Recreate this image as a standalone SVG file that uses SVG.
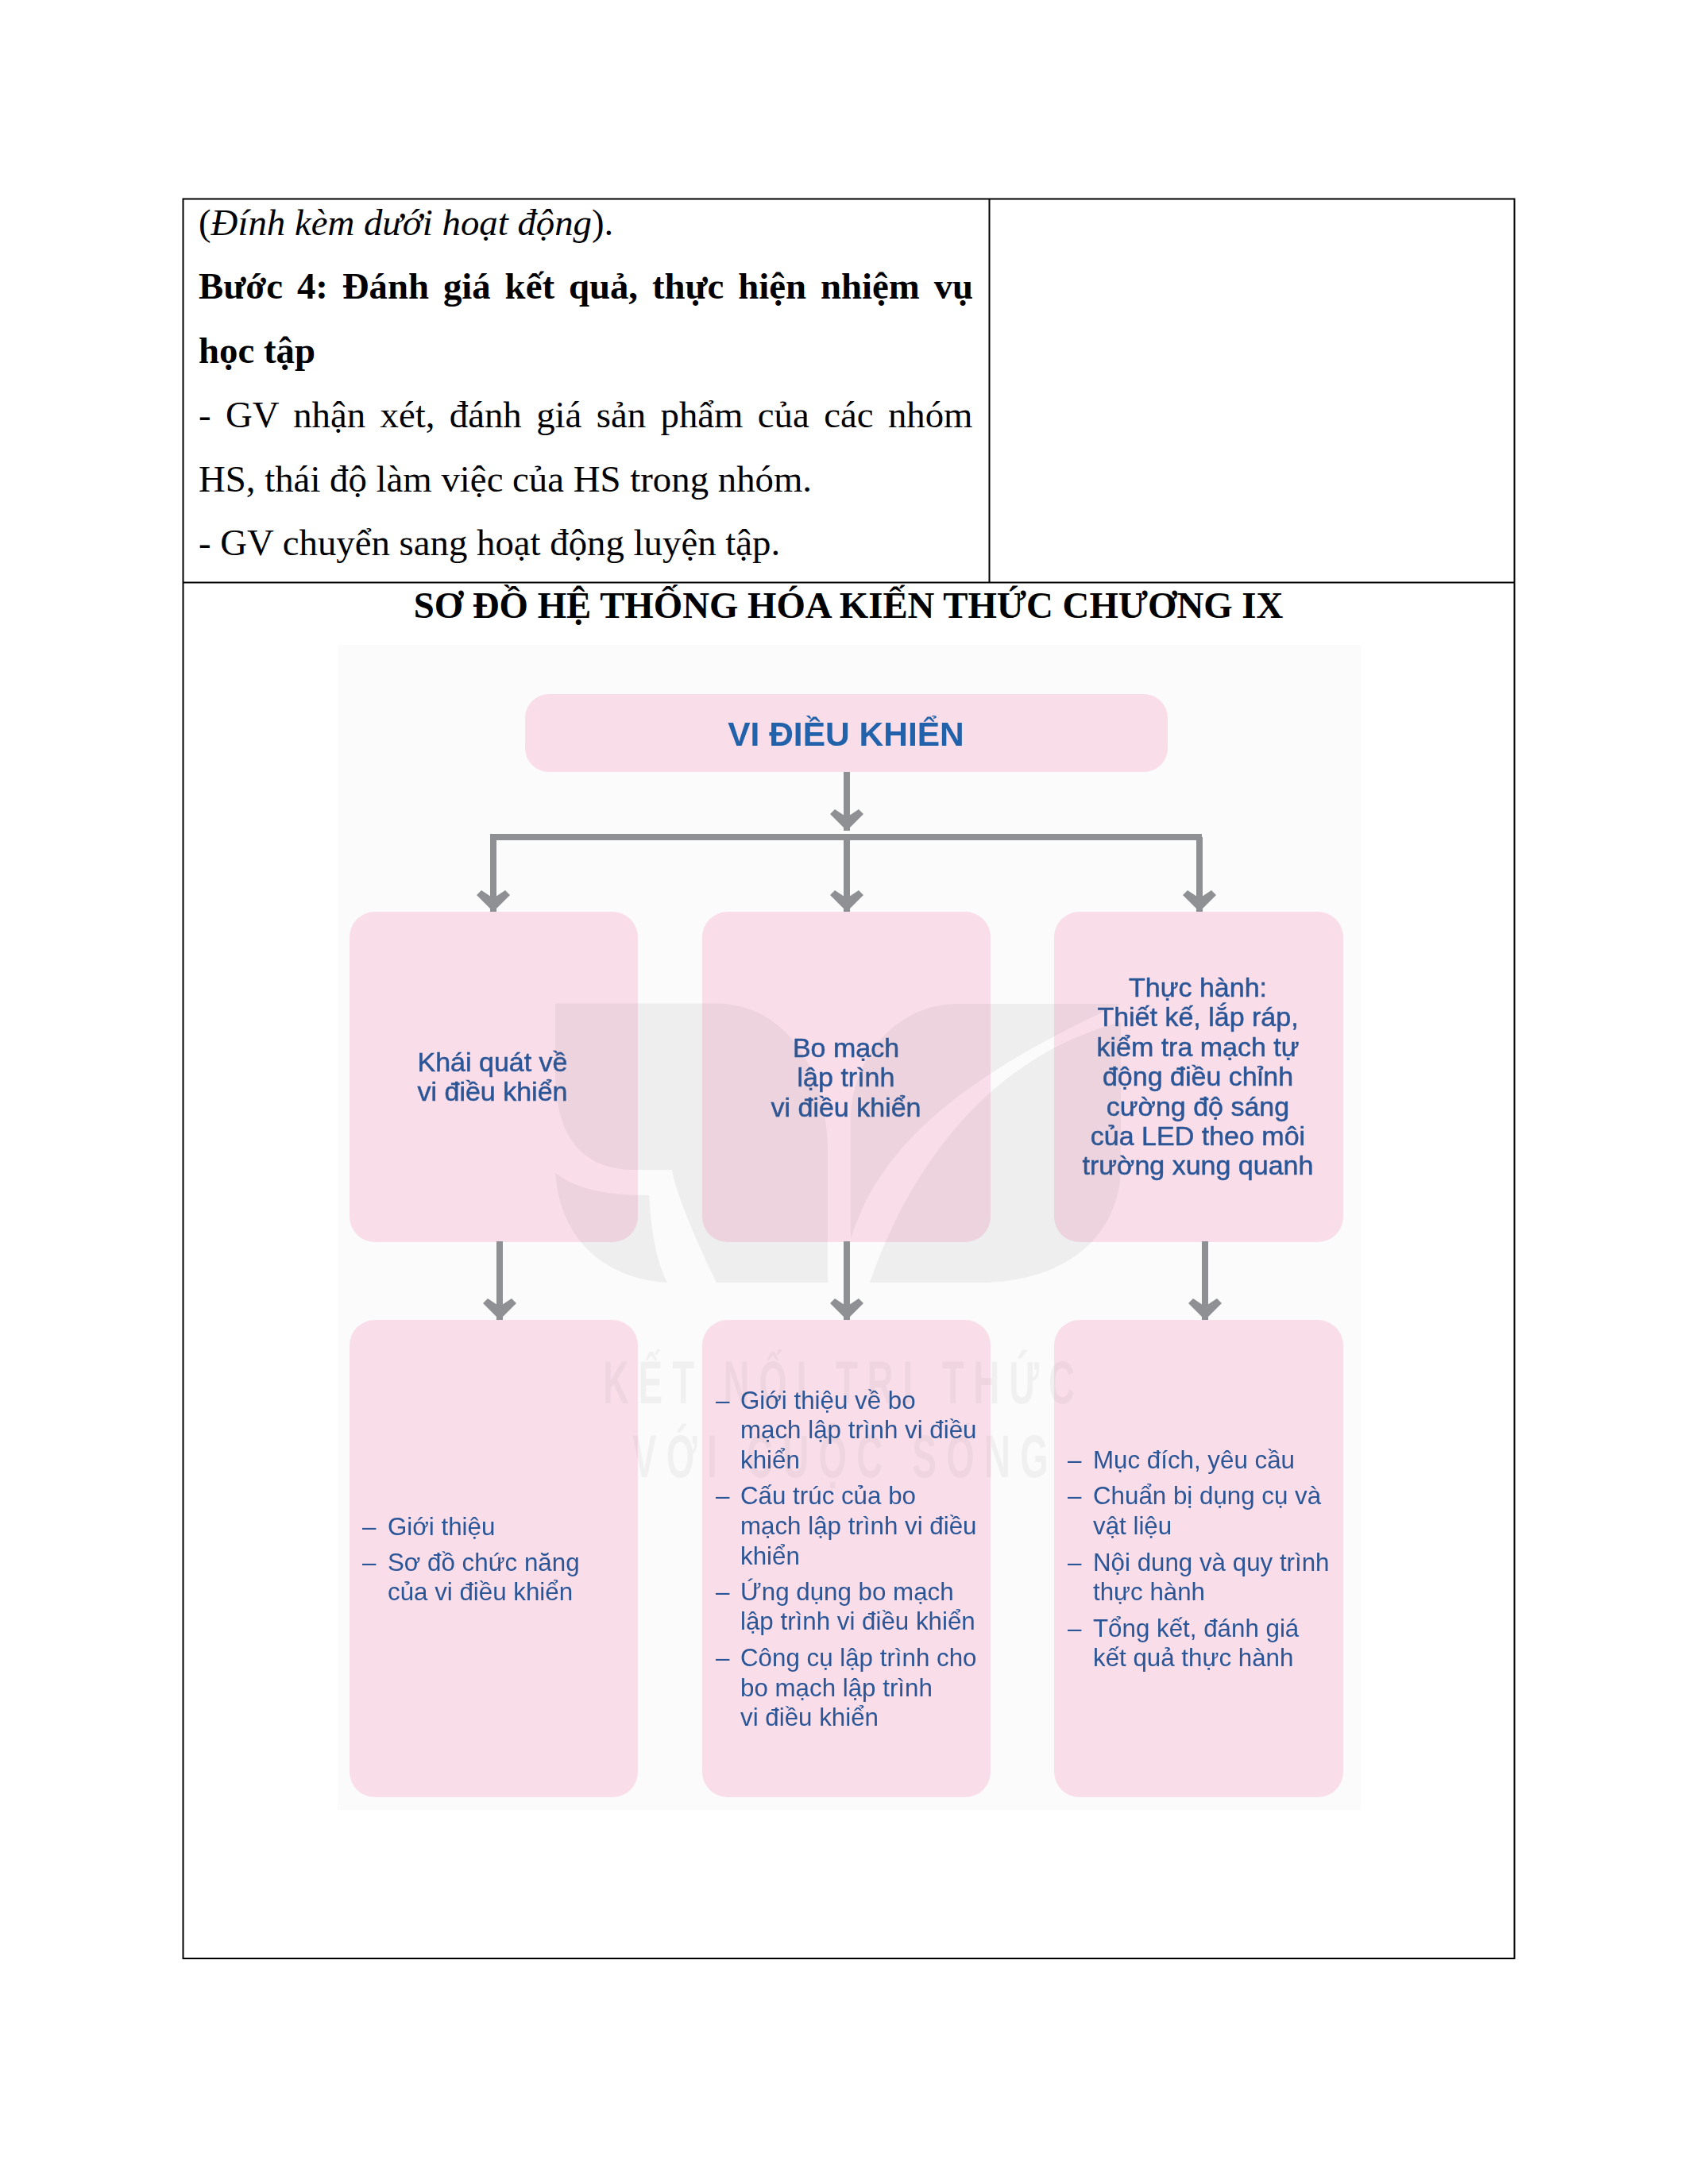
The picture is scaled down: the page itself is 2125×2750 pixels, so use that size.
<svg xmlns="http://www.w3.org/2000/svg" width="2125" height="2750" viewBox="0 0 2125 2750">
<style>
.doc{font-family:"Liberation Serif","Times New Roman",serif;font-size:46.8px;fill:#000}
.b{font-weight:bold}
.box{fill:#f9deea}
.t{font-family:"Liberation Sans",Arial,sans-serif;font-size:31.3px;fill:#2a5596}
.h{font-size:34px;stroke:#2a5596;stroke-width:.5}
.c{text-anchor:middle}
.rule{stroke:#000;stroke-width:2;fill:none}
.conn{stroke:#8f9093;stroke-width:8;fill:none}
.wm{fill:#6e6e6e;opacity:.085}
.wmt{font-family:"Liberation Sans",Arial,sans-serif;font-weight:bold;font-size:76px;fill:#6e6e6e;opacity:.07}
</style>
<defs>
<filter id="soft" x="-2%" y="-2%" width="104%" height="104%"><feGaussianBlur stdDeviation="0.7"/></filter>
<marker id="chev" markerUnits="userSpaceOnUse" markerWidth="44" markerHeight="34" refX="22" refY="30" viewBox="0 0 44 34"><path d="M22 30 L1 9 L7 3 L22 13 L37 3 L43 9 Z" fill="#8f9093"/></marker>
</defs>
<rect width="2125" height="2750" fill="#fff"/>
<g id="table">
<rect class="rule" x="230.500" y="250.500" width="1676" height="2215.500"/>
<path class="rule" d="M230 733.500H1906M1245.500 250V733"/>
<text class="doc" x="250" y="296">(<tspan font-style="italic">Đính kèm dưới hoạt động</tspan>).</text>
<text class="doc b" x="250" y="376" word-spacing="6.200">Bước 4: Đánh giá kết quả, thực hiện nhiệm vụ</text>
<text class="doc b" x="250" y="457">học tập</text>
<text class="doc" x="250" y="538" word-spacing="6.700">- GV nhận xét, đánh giá sản phẩm của các nhóm</text>
<text class="doc" x="250" y="619">HS, thái độ làm việc của HS trong nhóm.</text>
<text class="doc" x="250" y="699">- GV chuyển sang hoạt động luyện tập.</text>
<text class="doc b c" x="1068" y="778">SƠ ĐỒ HỆ THỐNG HÓA KIẾN THỨC CHƯƠNG IX</text>
</g>
<g id="figure" filter="url(#soft)">
<rect id="figure-bg" x="425" y="812" width="1288" height="1467" fill="#fbfbfb"/>
<g id="n-root"><rect class="box" x="661" y="874" width="809" height="98" rx="30"/><text class="t c b" x="1065" y="939" style="font-size:42.500px;fill:#2362ab">VI ĐIỀU KHIỂN</text></g>
<g id="n-a1"><rect class="box" x="440" y="1148" width="363" height="416" rx="32"/><text class="t c h" x="620" y="1349">Khái quát về<tspan x="620" dy="37.4">vi điều khiển</tspan></text></g>
<g id="n-b1"><rect class="box" x="884" y="1148" width="363" height="416" rx="32"/><text class="t c h" x="1065" y="1331">Bo mạch<tspan x="1065" dy="37.4">lập trình</tspan><tspan x="1065" dy="37.4">vi điều khiển</tspan></text></g>
<g id="n-c1"><rect class="box" x="1327" y="1148" width="364" height="416" rx="32"/><text class="t c h" x="1508" y="1255">Thực hành:<tspan x="1508" dy="37.4">Thiết kế, lắp ráp,</tspan><tspan x="1508" dy="37.4">kiểm tra mạch tự</tspan><tspan x="1508" dy="37.4">động điều chỉnh</tspan><tspan x="1508" dy="37.4">cường độ sáng</tspan><tspan x="1508" dy="37.4">của LED theo môi</tspan><tspan x="1508" dy="37.4">trường xung quanh</tspan></text></g>
<g id="n-a2"><rect class="box" x="440" y="1662" width="363" height="601" rx="32"/><text class="t"><tspan x="456" y="1933">–</tspan><tspan x="488" y="1933">Giới thiệu</tspan><tspan x="456" y="1978">–</tspan><tspan x="488" y="1978">Sơ đồ chức năng</tspan><tspan x="488" y="2015">của vi điều khiển</tspan></text></g>
<g id="n-b2"><rect class="box" x="884" y="1662" width="363" height="601" rx="32"/><text class="t"><tspan x="901" y="1774">–</tspan><tspan x="932" y="1774">Giới thiệu về bo</tspan><tspan x="932" y="1811">mạch lập trình vi điều</tspan><tspan x="932" y="1849">khiển</tspan><tspan x="901" y="1894">–</tspan><tspan x="932" y="1894">Cấu trúc của bo</tspan><tspan x="932" y="1932">mạch lập trình vi điều</tspan><tspan x="932" y="1970">khiển</tspan><tspan x="901" y="2015">–</tspan><tspan x="932" y="2015">Ứng dụng bo mạch</tspan><tspan x="932" y="2052">lập trình vi điều khiển</tspan><tspan x="901" y="2098">–</tspan><tspan x="932" y="2098">Công cụ lập trình cho</tspan><tspan x="932" y="2136">bo mạch lập trình</tspan><tspan x="932" y="2173">vi điều khiển</tspan></text></g>
<g id="n-c2"><rect class="box" x="1327" y="1662" width="364" height="601" rx="32"/><text class="t"><tspan x="1344" y="1849">–</tspan><tspan x="1376" y="1849">Mục đích, yêu cầu</tspan><tspan x="1344" y="1894">–</tspan><tspan x="1376" y="1894">Chuẩn bị dụng cụ và</tspan><tspan x="1376" y="1932">vật liệu</tspan><tspan x="1344" y="1978">–</tspan><tspan x="1376" y="1978">Nội dung và quy trình</tspan><tspan x="1376" y="2015">thực hành</tspan><tspan x="1344" y="2061">–</tspan><tspan x="1376" y="2061">Tổng kết, đánh giá</tspan><tspan x="1376" y="2098">kết quả thực hành</tspan></text></g>
<g id="connectors">
<path class="conn" marker-end="url(#chev)" d="M1066 972V1046"/>
<path class="conn" d="M617 1054H1513"/>
<path class="conn" marker-end="url(#chev)" d="M621 1054V1148"/>
<path class="conn" marker-end="url(#chev)" d="M1066 1054V1148"/>
<path class="conn" marker-end="url(#chev)" d="M1510 1054V1148"/>
<path class="conn" marker-end="url(#chev)" d="M629 1563V1662"/>
<path class="conn" marker-end="url(#chev)" d="M1066 1563V1662"/>
<path class="conn" marker-end="url(#chev)" d="M1517 1563V1662"/>
</g>
<g id="watermark">
<path class="wm" d="M699 1263.500H908C1000 1270 1042 1360 1042 1450V1615H902C875 1560 850 1500 846 1473H800C740 1473 699 1440 699 1350Z"/>
<path class="wm" d="M699 1477C730 1500 770 1505 817 1505C820 1550 825 1585 840 1615C760 1610 705 1560 699 1477Z"/>
<path class="wm" d="M1071 1560C1101 1465 1176 1370 1411 1264H1202C1122 1267 1071 1339 1071 1410Z"/>
<path class="wm" d="M1095 1615H1230C1360 1615 1411 1540 1411 1470V1287C1256 1327 1149 1457 1095 1615Z"/>
<text class="wmt" transform="translate(759 1767) scale(.6 1)" textLength="990" lengthAdjust="spacing">KẾT NỐI TRI THỨC</text>
<text class="wmt" transform="translate(796 1860) scale(.6 1)" textLength="873" lengthAdjust="spacing">VỚI CUỘC SỐNG</text>
</g>
</g>
</svg>
